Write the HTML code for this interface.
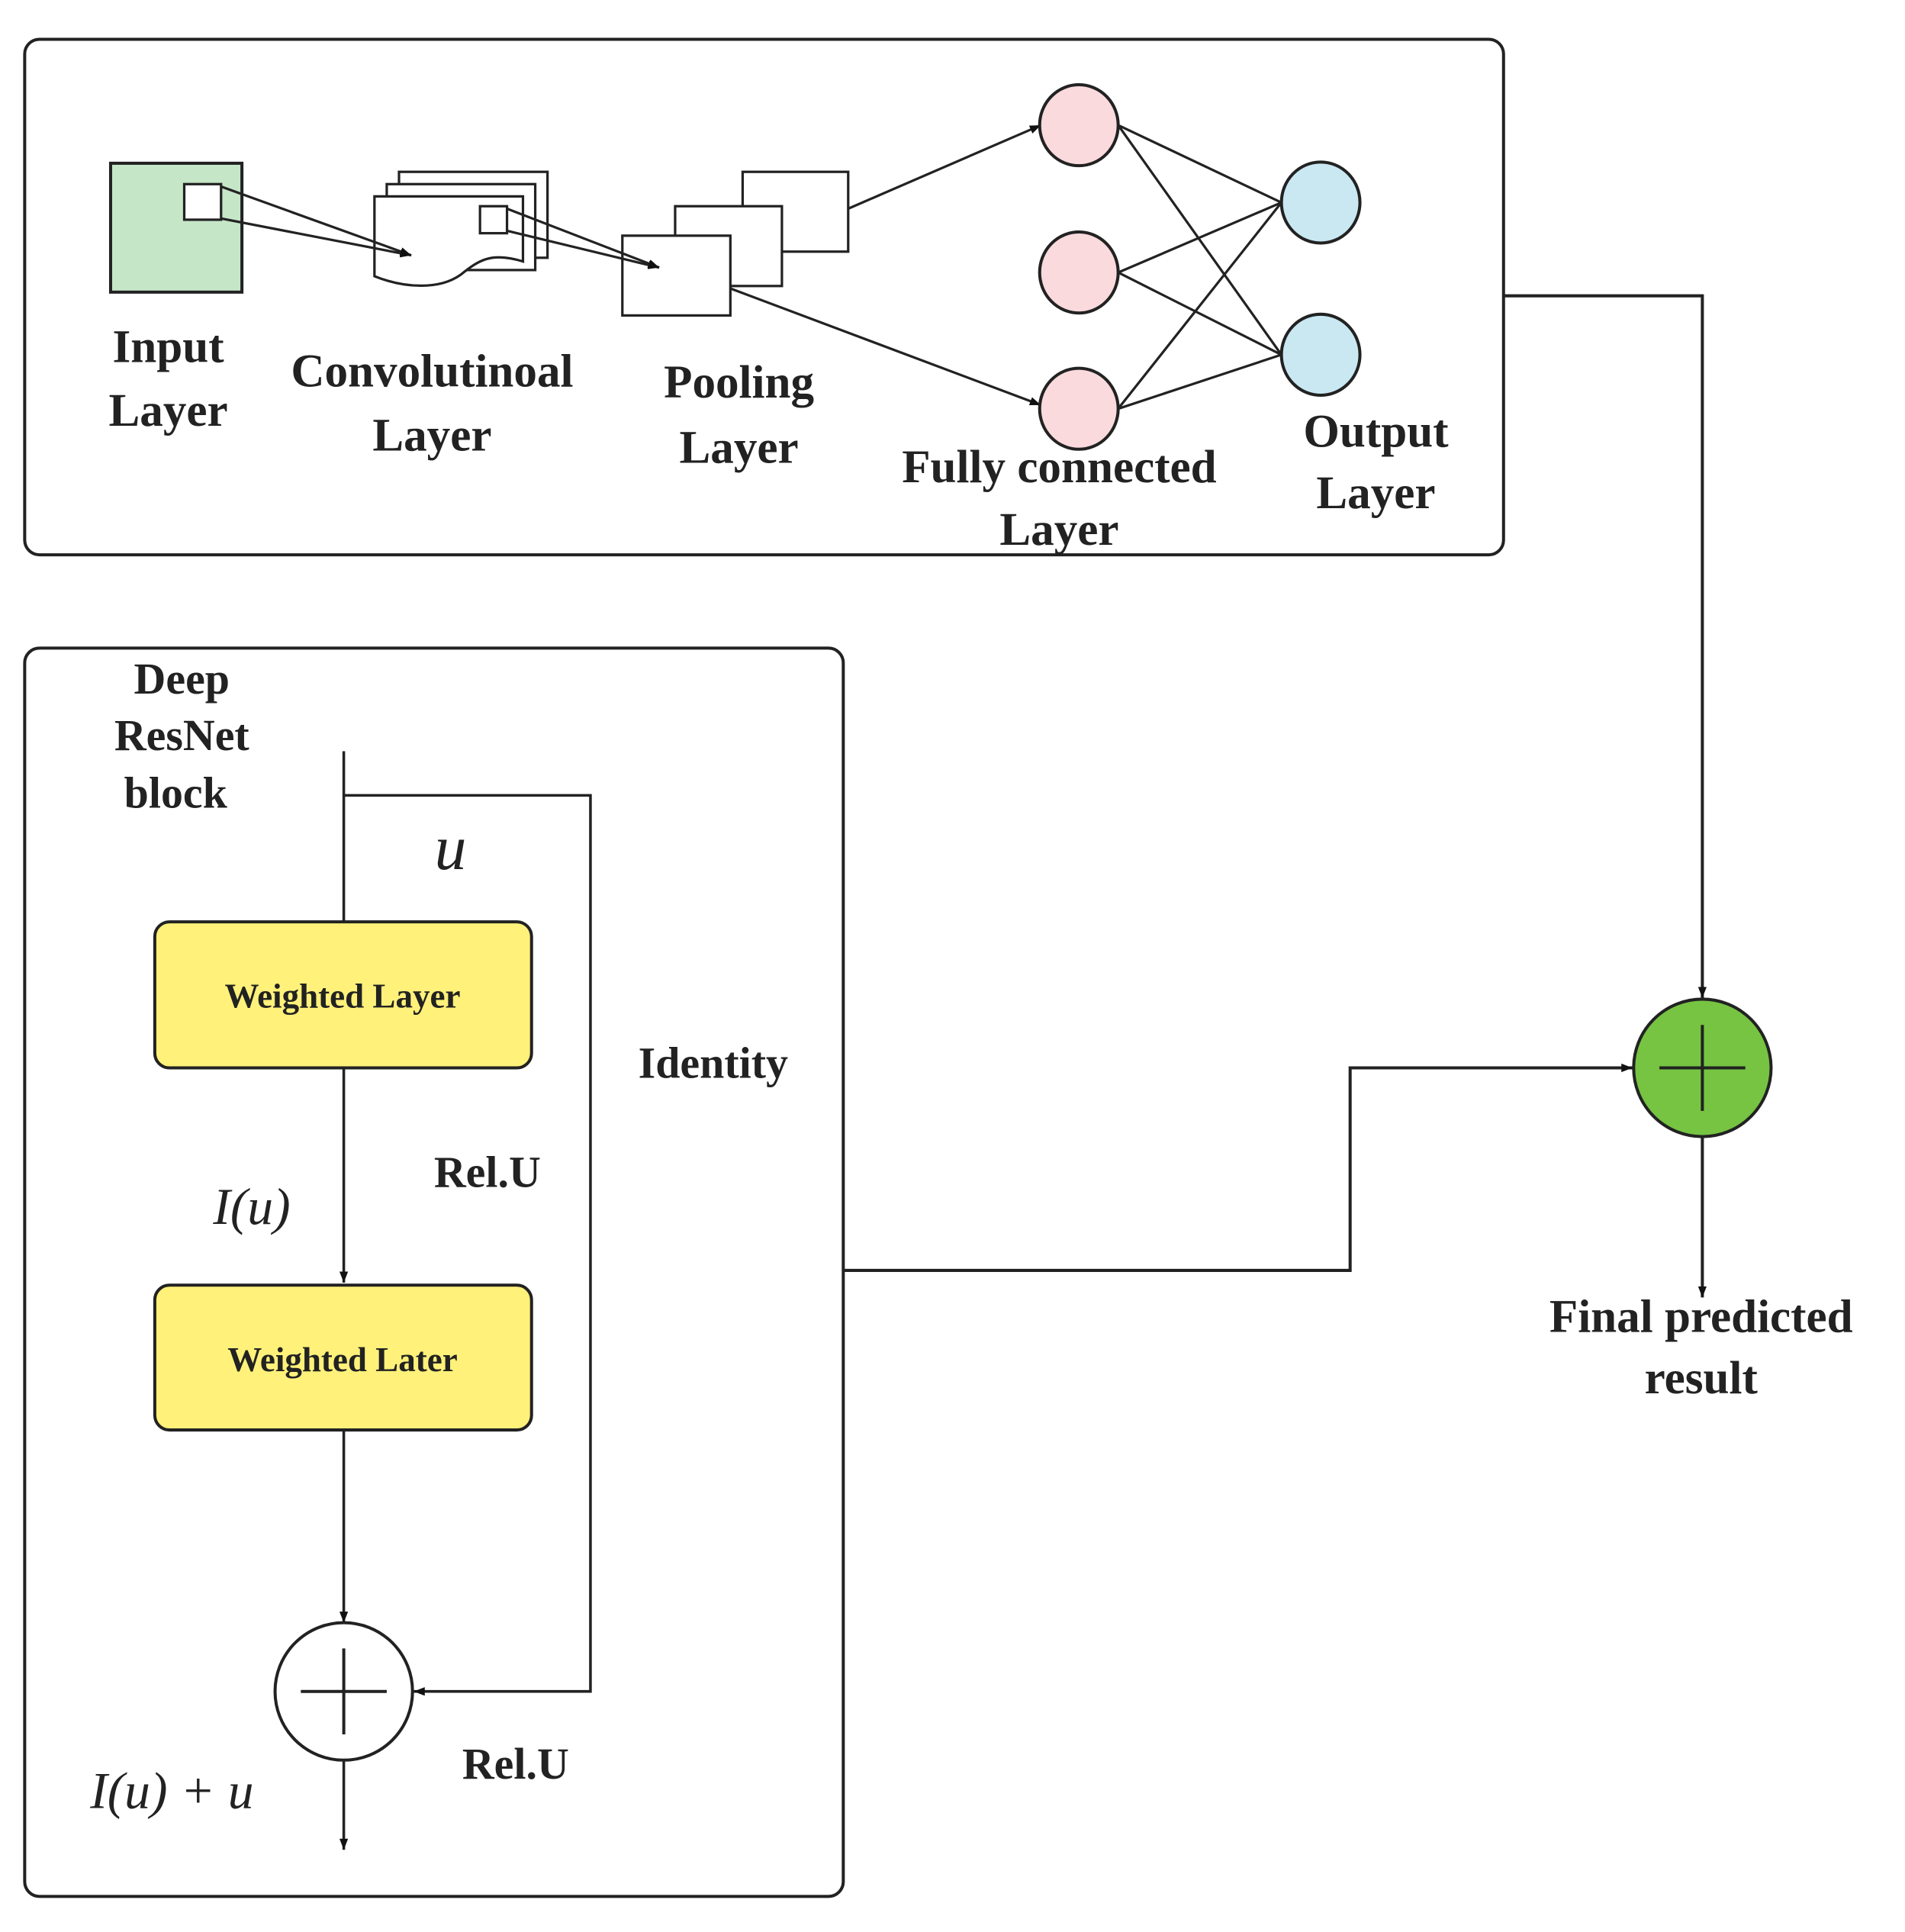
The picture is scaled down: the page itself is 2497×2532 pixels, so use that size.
<!DOCTYPE html>
<html><head><meta charset="utf-8"><style>
html,body{margin:0;padding:0;background:#fff;}
svg{display:block;}
text{font-family:"Liberation Serif",serif;font-weight:bold;fill:#222;text-anchor:middle;}
.it{font-style:italic;font-weight:normal;}
</style></head><body>
<svg width="2497" height="2532" viewBox="0 0 1552 1574" xmlns="http://www.w3.org/2000/svg">
<defs>
<marker id="a" markerWidth="10" markerHeight="10" refX="9" refY="5" orient="auto" markerUnits="userSpaceOnUse"><path d="M0,1.5 L9,5 L0,8.5 Z" fill="#111"/></marker>
</defs>
<g fill="none" stroke="#222" stroke-width="2.5">
<rect x="20" y="32" width="1205" height="420" rx="12"/>
<rect x="20" y="528" width="667" height="1017" rx="12"/>
</g>
<!-- input -->
<rect x="90" y="133" width="107" height="105" fill="#c6e6c8" stroke="#222" stroke-width="2.5"/>
<rect x="150" y="150" width="30" height="29" fill="#fff" stroke="#222" stroke-width="2"/>
<!-- conv -->
<g fill="#fff" stroke="#222" stroke-width="2">
<rect x="325" y="140" width="121" height="70"/>
<rect x="315" y="150" width="121" height="70"/>
<path d="M305,160 H426 V213 C400,205 390,212 375,224 C358,236 330,235 305,225 Z"/>
<rect x="391" y="168" width="22" height="22"/>
</g>
<g stroke="#222" stroke-width="2">
<line x1="180" y1="152" x2="335" y2="208" marker-end="url(#a)"/>
<line x1="180" y1="178" x2="335" y2="208" marker-end="url(#a)"/>
</g>
<!-- pooling -->
<g fill="#fff" stroke="#222" stroke-width="2">
<rect x="605" y="140" width="86" height="65"/>
<rect x="550" y="168" width="87" height="65"/>
<rect x="507" y="192" width="88" height="65"/>
</g>
<g stroke="#222" stroke-width="2">
<line x1="413" y1="170" x2="537" y2="218" marker-end="url(#a)"/>
<line x1="413" y1="188" x2="537" y2="218" marker-end="url(#a)"/>
<line x1="691" y1="170" x2="848" y2="102" marker-end="url(#a)"/>
<line x1="595" y1="235" x2="848" y2="330" marker-end="url(#a)"/>
<line x1="911" y1="102" x2="1044" y2="165"/><line x1="911" y1="102" x2="1044" y2="289"/>
<line x1="911" y1="222" x2="1044" y2="165"/><line x1="911" y1="222" x2="1044" y2="289"/>
<line x1="911" y1="333" x2="1044" y2="165"/><line x1="911" y1="333" x2="1044" y2="289"/>
</g>
<g stroke="#222" stroke-width="2.5">
<ellipse cx="879" cy="102" rx="32" ry="33" fill="#fadadd"/>
<ellipse cx="879" cy="222" rx="32" ry="33" fill="#fadadd"/>
<ellipse cx="879" cy="333" rx="32" ry="33" fill="#fadadd"/>
<ellipse cx="1076" cy="165" rx="32" ry="33" fill="#c9e8f2"/>
<ellipse cx="1076" cy="289" rx="32" ry="33" fill="#c9e8f2"/>
</g>
<g font-size="38">
<text x="137" y="295">Input</text><text x="137" y="347">Layer</text>
<text x="352" y="315">Convolutinoal</text><text x="352" y="367">Layer</text>
<text x="602" y="324">Pooling</text><text x="602" y="377">Layer</text>
<text x="863" y="393">Fully connected</text><text x="863" y="444">Layer</text>
<text x="1121" y="364">Output</text><text x="1121" y="414">Layer</text>
</g>
<!-- right path -->
<g fill="none" stroke="#222" stroke-width="2.5">
<polyline points="1225,241 1387,241 1387,813" marker-end="url(#a)"/>
<line x1="1387" y1="926" x2="1387" y2="1057" marker-end="url(#a)"/>
<polyline points="687,1035 1100,1035 1100,870 1330,870" marker-end="url(#a)"/>
</g>
<circle cx="1387" cy="870" r="56" fill="#76c442" stroke="#222" stroke-width="2.5"/>
<g stroke="#222" stroke-width="2.5"><line x1="1352" y1="870" x2="1422" y2="870"/><line x1="1387" y1="835" x2="1387" y2="905"/></g>
<g font-size="38">
<text x="1386" y="1085">Final predicted</text><text x="1386" y="1135">result</text>
</g>
<!-- resnet -->
<g font-size="36">
<text x="148" y="565">Deep</text><text x="148" y="611">ResNet</text><text x="143" y="658">block</text>
<text x="581" y="878">Identity</text>
<text x="397" y="967">Rel.U</text>
<text x="420" y="1449">Rel.U</text>
</g>
<g fill="none" stroke="#222" stroke-width="2.2">
<line x1="280" y1="612" x2="280" y2="751"/>
<polyline points="280,648 481,648 481,1378 337,1378" marker-end="url(#a)"/>
<line x1="280" y1="870" x2="280" y2="1045" marker-end="url(#a)"/>
<line x1="280" y1="1165" x2="280" y2="1322" marker-end="url(#a)"/>
<line x1="280" y1="1434" x2="280" y2="1507" marker-end="url(#a)"/>
</g>
<rect x="126" y="751" width="307" height="119" rx="12" fill="#fff17a" stroke="#222" stroke-width="2.5"/>
<rect x="126" y="1047" width="307" height="118" rx="12" fill="#fff17a" stroke="#222" stroke-width="2.5"/>
<g font-size="28"><text x="279" y="821">Weighted Layer</text><text x="279" y="1117">Weighted Later</text></g>
<circle cx="280" cy="1378" r="56" fill="#fff" stroke="#222" stroke-width="2.5"/>
<g stroke="#222" stroke-width="2.5"><line x1="245" y1="1378" x2="315" y2="1378"/><line x1="280" y1="1343" x2="280" y2="1413"/></g>
<text class="it" x="367" y="708" font-size="52">u</text>
<text class="it" x="205" y="997" font-size="42">I(u)</text>
<text class="it" x="140" y="1473" font-size="42">I(u) + u</text>
</svg>
</body></html>
